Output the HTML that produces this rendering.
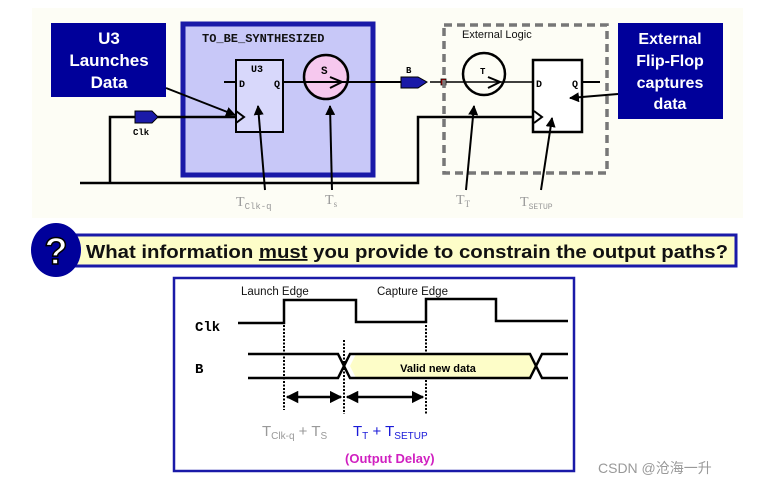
<!DOCTYPE html>
<html><head><meta charset="utf-8"><style>
body{margin:0;width:766px;height:488px;background:#fff;overflow:hidden}
svg{display:block}
</style></head><body>
<svg width="766" height="488" viewBox="0 0 766 488" xmlns="http://www.w3.org/2000/svg">
<defs>
<marker id="ah" viewBox="0 0 10 10" refX="9" refY="5" markerWidth="5" markerHeight="5" orient="auto-start-reverse"><path d="M0,0L10,5L0,10z" fill="#000"/></marker>
</defs>
<rect x="32" y="8" width="711" height="210" fill="#fdfdf5"/>
<rect x="51" y="23" width="115" height="74" fill="#00009a"/>
<text font-family="Liberation Sans,sans-serif" font-weight="bold" font-size="17" fill="#fff" text-anchor="middle"><tspan x="109" y="44">U3</tspan><tspan x="109" y="66">Launches</tspan><tspan x="109" y="88">Data</tspan></text>
<rect x="183" y="24" width="190" height="151" fill="#c8c8f8" stroke="#1a1aa8" stroke-width="5"/>
<text x="202" y="42" font-family="Liberation Mono,monospace" font-weight="bold" font-size="12" fill="#111">TO_BE_SYNTHESIZED</text>
<rect x="236" y="60" width="47" height="72" fill="#d8d8fb" stroke="#000" stroke-width="2"/>
<text x="251" y="72" font-family="Liberation Mono,monospace" font-weight="bold" font-size="10">U3</text>
<text x="239" y="87" font-family="Liberation Mono,monospace" font-weight="bold" font-size="10">D</text>
<text x="274" y="87" font-family="Liberation Mono,monospace" font-weight="bold" font-size="10">Q</text>
<line x1="224" y1="82" x2="236" y2="82" stroke="#000" stroke-width="2"/>
<path d="M236,111L244,117L236,123" fill="none" stroke="#000" stroke-width="2"/>
<circle cx="326" cy="77" r="22" fill="#f6c8ee" stroke="#000" stroke-width="2.5"/>
<text x="321" y="74" font-family="Liberation Mono,monospace" font-weight="bold" font-size="11">S</text>
<line x1="283" y1="82" x2="401" y2="82" stroke="#000" stroke-width="2"/>
<line x1="430" y1="82" x2="533" y2="82" stroke="#000" stroke-width="1.5"/>
<path d="M330,77L342,82L330,88" fill="none" stroke="#000" stroke-width="2"/>
<path d="M401,77L418,77L427,82L418,88L401,88z" fill="#1a1aa8" stroke="#000"/>
<text x="406" y="73" font-family="Liberation Mono,monospace" font-weight="bold" font-size="9">B</text>
<rect x="441" y="79" width="5" height="6" fill="#c00" stroke="#000" stroke-width="0.8"/>
<path d="M110,183L110,117L236,117" fill="none" stroke="#000" stroke-width="2.5"/>
<path d="M135,111L152,111L158,117L152,123L135,123z" fill="#1a1aa8" stroke="#000"/>
<text x="133" y="135" font-family="Liberation Mono,monospace" font-weight="bold" font-size="9">Clk</text>
<path d="M80,183L418,183L418,117L534,117" fill="none" stroke="#000" stroke-width="2.5"/>
<rect x="444" y="25" width="163" height="148" fill="none" stroke="#777" stroke-width="3.5" stroke-dasharray="8,5"/>
<text x="462" y="38" font-family="Liberation Sans,sans-serif" font-size="11" fill="#111">External Logic</text>
<circle cx="484" cy="74" r="21" fill="none" stroke="#000" stroke-width="2.5"/>
<text x="480" y="74" font-family="Liberation Mono,monospace" font-weight="bold" font-size="9">T</text>
<path d="M488,77L500,82L488,88" fill="none" stroke="#000" stroke-width="2"/>
<rect x="533" y="60" width="49" height="72" fill="#fff" stroke="#000" stroke-width="2.5"/>
<text x="536" y="87" font-family="Liberation Mono,monospace" font-weight="bold" font-size="10">D</text>
<text x="572" y="87" font-family="Liberation Mono,monospace" font-weight="bold" font-size="10">Q</text>
<line x1="582" y1="82" x2="600" y2="82" stroke="#000" stroke-width="2"/>
<path d="M534,111L542,117L534,123" fill="none" stroke="#000" stroke-width="2"/>
<rect x="618" y="23" width="105" height="96" fill="#00009a"/>
<text font-family="Liberation Sans,sans-serif" font-weight="bold" font-size="16" fill="#fff" text-anchor="middle"><tspan x="670" y="44">External</tspan><tspan x="670" y="66">Flip-Flop</tspan><tspan x="670" y="88">captures</tspan><tspan x="670" y="109">data</tspan></text>
<g stroke="#000" stroke-width="2" marker-end="url(#ah)">
<line x1="166" y1="88" x2="235" y2="115"/>
<line x1="265" y1="190" x2="258" y2="106"/>
<line x1="332" y1="190" x2="330" y2="106"/>
<line x1="466" y1="190" x2="474" y2="106"/>
<line x1="541" y1="190" x2="552" y2="118"/>
<line x1="618" y1="94" x2="570" y2="98"/>
</g>
<g font-family="Liberation Serif,serif" font-size="14" fill="#999">
<text x="236" y="206">T<tspan font-family="Liberation Mono,monospace" font-size="9" dy="3">Clk-q</tspan></text>
<text x="325" y="204">T<tspan font-size="9" dy="3">s</tspan></text>
<text x="456" y="204">T<tspan font-size="9" dy="3">T</tspan></text>
<text x="520" y="206">T<tspan font-family="Liberation Mono,monospace" font-size="8" dy="3">SETUP</tspan></text>
</g>
<rect x="62" y="235" width="674" height="31" fill="#fdfdc8" stroke="#1a1aa8" stroke-width="3"/>
<ellipse cx="56" cy="250" rx="25" ry="27" fill="#00009a"/>
<text x="56" y="264" font-family="Liberation Sans,sans-serif" font-weight="bold" font-size="38" fill="#fff" stroke="#000" stroke-width="1.5" text-anchor="middle">?</text>
<text x="86" y="258" font-family="Liberation Sans,sans-serif" font-weight="bold" font-size="18" fill="#111" textLength="642" lengthAdjust="spacingAndGlyphs">What information <tspan text-decoration="underline">must</tspan> you provide to constrain the output paths?</text>
<rect x="174" y="278" width="400" height="193" fill="#fff" stroke="#1a1aa8" stroke-width="2.5"/>
<g font-family="Liberation Sans,sans-serif" font-size="11.5" fill="#111">
<text x="241" y="295">Launch Edge</text>
<text x="377" y="295">Capture Edge</text>
</g>
<text x="195" y="331" font-family="Liberation Mono,monospace" font-weight="bold" font-size="14">Clk</text>
<text x="195" y="373" font-family="Liberation Mono,monospace" font-weight="bold" font-size="14">B</text>
<path d="M238,323L284,323L284,300L356,300L356,322L426,322L426,299L496,299L496,321L568,321" fill="none" stroke="#000" stroke-width="2.5"/>
<path d="M350,366L356,354L530,354L536,366L530,378L356,378z" fill="#fdfdc8"/>
<path d="M248,354L338,354L350,378L530,378L542,354L568,354 M248,378L338,378L350,354L530,354L542,378L568,378" fill="none" stroke="#000" stroke-width="2.5"/>
<text x="438" y="372" font-family="Liberation Sans,sans-serif" font-weight="bold" font-size="11" text-anchor="middle">Valid new data</text>
<g stroke="#000" stroke-width="2" stroke-dasharray="2,1.5">
<line x1="284" y1="325" x2="284" y2="410"/>
<line x1="344" y1="340" x2="344" y2="414"/>
<line x1="426" y1="325" x2="426" y2="352"/>
<line x1="426" y1="380" x2="426" y2="414"/>
</g>
<g stroke="#000" stroke-width="2.5" marker-start="url(#ah)" marker-end="url(#ah)">
<line x1="287" y1="397" x2="341" y2="397"/>
<line x1="347" y1="397" x2="423" y2="397"/>
</g>
<g font-family="Liberation Sans,sans-serif" font-size="15">
<text x="262" y="436" fill="#999">T<tspan font-size="10" dy="3">Clk-q</tspan><tspan dy="-3"> + T</tspan><tspan font-size="10" dy="3">S</tspan></text>
<text x="353" y="436" fill="#1a1ad8">T<tspan font-size="10" dy="3">T</tspan><tspan dy="-3"> + T</tspan><tspan font-size="10" dy="3">SETUP</tspan></text>
</g>
<text x="345" y="463" font-family="Liberation Sans,sans-serif" font-weight="bold" font-size="13" fill="#d020c0">(Output Delay)</text>
<text x="598" y="473" font-family="Liberation Sans,'Noto Sans CJK SC',sans-serif" font-size="14" fill="#999">CSDN @沧海一升</text>
</svg>
</body></html>
